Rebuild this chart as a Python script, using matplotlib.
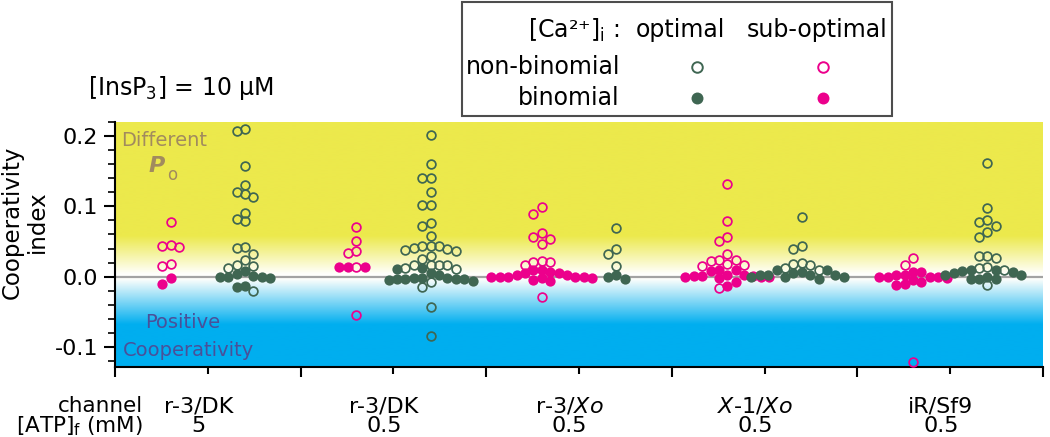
import numpy as np
import matplotlib
matplotlib.use("Agg")
import matplotlib.pyplot as plt
from matplotlib.patches import Rectangle
from matplotlib.lines import Line2D
from matplotlib.transforms import blended_transform_factory

plt.rcParams['font.family'] = ['DejaVu Sans']
plt.rcParams['mathtext.default'] = 'regular'

# ---------------- data ----------------
channels = ["r-3/DK", "r-3/DK", r"r-3/$\mathit{Xo}$", r"$\mathit{X}$-1/$\mathit{Xo}$", "iR/Sf9"]
atp_mM = ["5", "0.5", "0.5", "0.5", "0.5"]

# sub-optimal [Ca2+]i (magenta)
sub_nonbinomial = [
    [0.078, 0.045, 0.042, 0.044, 0.018, 0.015],
    [0.070, 0.051, 0.037, 0.034, 0.014, -0.054],
    [0.099, 0.089, 0.062, 0.053, 0.046, 0.056, 0.022, 0.021, 0.017, 0.021, -0.029],
    [0.132, 0.079, 0.057, 0.051, 0.032, 0.023, 0.022, 0.018, 0.015, 0.017, 0.023, -0.016],
    [0.026, 0.016, -0.122],
]
sub_binomial = [
    [-0.002, -0.010],
    [0.014, 0.014, 0.014],
    [0.003, 0.000, 0.009, 0.000, 0.005, -0.002, -0.005, 0.005, 0.000, -0.006,
     0.007, -0.002, 0.010, 0.000, 0.000, 0.003],
    [0.001, 0.000, -0.001, 0.003, 0.003, 0.001, -0.002, 0.000, 0.001,
     0.010, 0.008, 0.010, -0.013, -0.007],
    [-0.001, -0.001, 0.007, -0.005, 0.003, -0.011, 0.002, -0.012, 0.006,
     -0.007, -0.002, -0.001, 0.000],
]
# optimal [Ca2+]i (dark green)
opt_nonbinomial = [
    [0.210, 0.207, 0.157, 0.130, 0.117, 0.113, 0.120, 0.091, 0.082, 0.079,
     0.042, 0.041, 0.032, 0.023, 0.015, 0.013, 0.017, -0.020],
    [0.201, 0.160, 0.141, 0.140, 0.120, 0.102, 0.102, 0.072, 0.076, 0.058,
     0.043, 0.039, 0.037, 0.044, 0.038, 0.041, 0.044, 0.029, 0.025, 0.017,
     0.016, 0.012, 0.011, 0.016, 0.017, -0.008, -0.014, -0.043, -0.085],
    [0.069, 0.040, 0.032, 0.015],
    [0.085, 0.044, 0.040, 0.019, 0.018, 0.013, 0.009, 0.016],
    [0.162, 0.097, 0.080, 0.078, 0.072, 0.063, 0.056, 0.030, 0.030, 0.026,
     0.012, 0.009, 0.014, -0.012],
]
opt_binomial = [
    [0.008, -0.001, -0.001, 0.001, 0.000, 0.004, -0.002, -0.014, -0.013],
    [0.011, 0.013, 0.002, 0.005, -0.002, -0.003, -0.005, -0.002, -0.002,
     -0.006, -0.004, -0.003, -0.003],
    [0.000, -0.003, 0.003],
    [0.005, 0.002, 0.000, 0.009, -0.001, 0.009, 0.002, -0.003, 0.000, 0.002,
     0.003, 0.007],
    [0.007, 0.005, 0.000, 0.010, -0.003, -0.004, 0.010, -0.003, 0.003, 0.003, 0.008],
]

# ---------------- style ----------------
MAGENTA = "#EC008C"
GREEN = "#3F6652"
YELLOW = np.array([236, 233, 76]) / 255
BLUE = np.array([0, 174, 239]) / 255
WHITE = np.array([255, 255, 252]) / 255

W, H = 1050, 437
fig = plt.figure(figsize=(W / 100, H / 100), dpi=100)
ax = fig.add_axes([115 / W, 1 - 367 / H, (1043 - 115) / W, (367 - 122) / H])
YMIN, YMAX = -0.1285, 0.2195
ax.set_xlim(0, 5)
ax.set_ylim(YMIN, YMAX)

def fx(px):
    return px / W

def fy(py):
    return 1 - py / H

# background gradient
yy = np.linspace(YMIN, YMAX, 600)
stops_v = [YMIN, -0.068, -0.003, 0.004, 0.058, YMAX]
stops_c = [BLUE, BLUE, WHITE, WHITE, YELLOW, YELLOW]
img = np.zeros((len(yy), 1, 3))
for c in range(3):
    img[:, 0, c] = np.interp(yy, stops_v, [s[c] for s in stops_c])
ax.imshow(img, origin='lower', extent=(0, 5, YMIN, YMAX), aspect='auto',
          interpolation='bilinear', zorder=0)

ax.axhline(0, color='#A3A3A3', lw=1.6, zorder=1)

# pixel scales for the swarm layout
fig.canvas.draw()
p0 = ax.transData.transform((0, 0))
p1 = ax.transData.transform((1, 1))
px_x = p1[0] - p0[0]
px_y = p1[1] - p0[1]
DX = 8.4 / px_x
DY = 8.2 / px_y

def swarm(open_vals, filled_vals, center):
    pts = [(v, False) for v in open_vals] + [(v, True) for v in filled_vals]
    pts.sort(key=lambda t: -t[0])
    cols = {}
    prefs = [0]
    for k in range(1, 30):
        prefs += [-k, k]
    out = []
    for v, filled in pts:
        for k in prefs:
            if all(abs(v - y) >= DY for y in cols.get(k, [])):
                cols.setdefault(k, []).append(v)
                out.append((center + k * DX, v, filled))
                break
    return out

OFF = 0.2
for i in range(5):
    for vals_o, vals_f, col, sign in [
        (sub_nonbinomial[i], sub_binomial[i], MAGENTA, -1),
        (opt_nonbinomial[i], opt_binomial[i], GREEN, 1),
    ]:
        pts = swarm(vals_o, vals_f, i + 0.5 + sign * OFF)
        xo = [p[0] for p in pts if not p[2]]
        yo = [p[1] for p in pts if not p[2]]
        xf = [p[0] for p in pts if p[2]]
        yf = [p[1] for p in pts if p[2]]
        ax.plot(xo, yo, 'o', ms=6.3, mfc='none', mec=col, mew=1.25, zorder=3,
                clip_on=False)
        ax.plot(xf, yf, 'o', ms=7.4, mfc=col, mec=col, mew=0, zorder=4,
                clip_on=False)

# axes styling
for s in ['top', 'right']:
    ax.spines[s].set_visible(False)
for s in ['left', 'bottom']:
    ax.spines[s].set_linewidth(1.5)
    ax.spines[s].set_color('black')

ax.set_xticks(np.arange(0, 6, 1))
ax.set_xticks(np.arange(0.5, 5, 1), minor=True)
ax.set_xticklabels([])
ax.tick_params(axis='x', which='major', length=7, width=1.5, direction='out')
ax.tick_params(axis='x', which='minor', length=5, width=1.5, direction='out')

ax.set_yticks([-0.1, 0.0, 0.1, 0.2])
ax.set_yticklabels(['-0.1', '0.0', '0.1', '0.2'], fontsize=16)
ax.set_yticks(np.arange(-0.12, 0.2201, 0.02), minor=True)
ax.tick_params(axis='y', which='major', length=8, width=1.5, direction='out', pad=4)
ax.tick_params(axis='y', which='minor', length=5, width=1.2, direction='out')

fig.text(fx(25), fy(222), "Cooperativity\nindex", rotation=90, ha='center',
         va='center', fontsize=16.5, multialignment='center', linespacing=1.1)

# in-plot annotations
fig.text(fx(121), fy(141), "Different", color='#A18B5E', fontsize=14, ha='left', va='center')
fig.text(fx(149), fy(166), "P", color='#A18B5E', fontsize=16, ha='left', va='center',
         fontweight='bold', fontstyle='italic')
fig.text(fx(167), fy(175), "o", color='#A18B5E', fontsize=12, ha='left', va='center')
fig.text(fx(145), fy(323), "Positive", color='#4A5099', fontsize=14, ha='left', va='center')
fig.text(fx(123), fy(350), "Cooperativity", color='#4A5099', fontsize=14, ha='left', va='center')

# bottom category rows
tr = blended_transform_factory(ax.transData, fig.transFigure)
ROW1, ROW2 = 412, 432
FS_ROW = 15.5
fig.text(fx(143), fy(ROW1), "channel", ha='right', va='baseline', fontsize=FS_ROW)
fig.text(fx(143), fy(ROW2), r"[ATP]$_\mathrm{f}$ (mM)", ha='right', va='baseline',
         fontsize=FS_ROW)
for i in range(5):
    ax.text(i + 0.45, fy(ROW1), channels[i], transform=tr, ha='center', va='baseline',
            fontsize=FS_ROW + 0.5)
    ax.text(i + 0.45, fy(ROW2), atp_mM[i], transform=tr, ha='center', va='baseline',
            fontsize=FS_ROW + 0.5)

# top-left condition
fig.text(fx(88), fy(88), r"[InsP$_3$] = 10 μM", ha='left', va='center', fontsize=17)

# legend box
fig.patches.append(Rectangle((fx(462), fy(116)), fx(892) - fx(462), fy(2) - fy(116),
                             transform=fig.transFigure, fill=False,
                             edgecolor='#4D4D4D', lw=1.5))
fig.text(fx(620), fy(30), "[Ca²⁺]$_\\mathrm{i}$ :", ha='right', va='center', fontsize=17)
fig.text(fx(680), fy(30), "optimal", ha='center', va='center', fontsize=17)
fig.text(fx(817), fy(30), "sub-optimal", ha='center', va='center', fontsize=17)
fig.text(fx(620), fy(67), "non-binomial", ha='right', va='center', fontsize=17)
fig.text(fx(620), fy(98), "binomial", ha='right', va='center', fontsize=17)
for (xp, yp, col, filled) in [(697, 67, GREEN, False), (823, 67, MAGENTA, False),
                               (697, 98, GREEN, True), (823, 98, MAGENTA, True)]:
    fig.lines.append(Line2D([fx(xp)], [fy(yp)], transform=fig.transFigure,
                            marker='o', ms=8.6 if filled else 7.6,
                            mfc=col if filled else 'none', mec=col,
                            mew=0 if filled else 1.4, linestyle='none'))

fig.savefig("out.png", dpi=100)
